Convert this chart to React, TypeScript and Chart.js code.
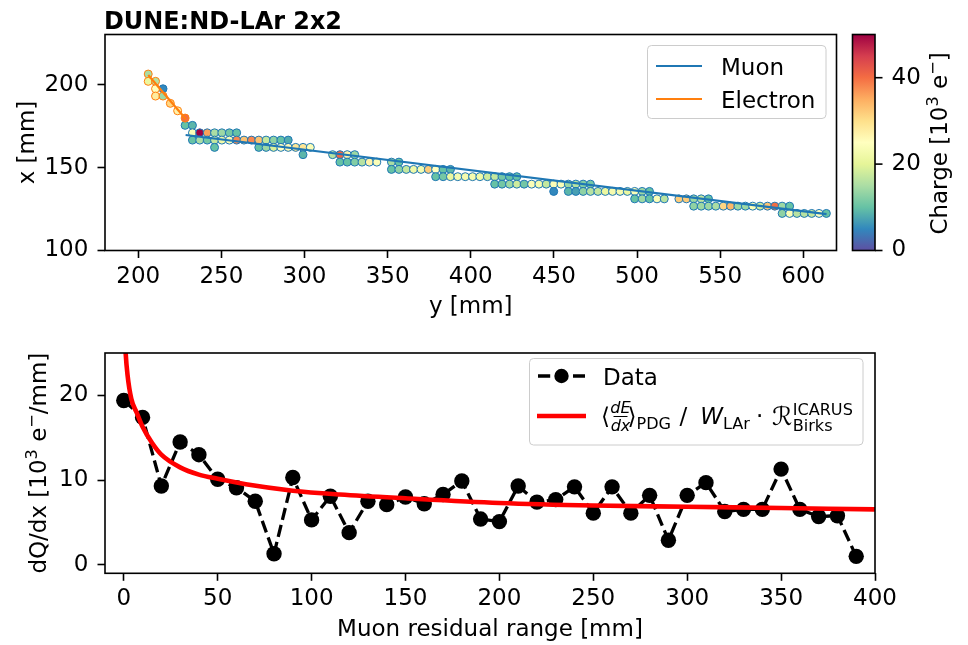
import React, { useEffect, useRef } from "react";
import { Chart, registerables } from "chart.js";
Chart.register(...registerables);

const W = 968;
const H = 645;
const TOP_H = 330;
const BOT_H = H - TOP_H;
const FAM = "'DejaVu Sans', sans-serif";
const FS = 23;

// ---------- top panel data ----------
const TOP_X_TICKS = [200, 250, 300, 350, 400, 450, 500, 550, 600];
const TOP_Y_TICKS = [100, 150, 200];
const CBAR_TICKS = [0, 20, 40];
const CBAR_MIN = 0;
const CBAR_MAX = 50;

// muon hits: y [mm], x [mm], charge [10^3 e-]
const MUON_Y = [
  214.9, 228.2, 232.6,
  232.6, 237.0, 241.5, 245.9, 250.3, 254.8, 259.2,
  232.6, 237.0, 241.5, 245.9, 250.3, 254.8, 259.2, 263.6, 268.1, 272.5, 276.9, 281.4, 285.8, 290.2,
  245.9, 272.5, 276.9, 281.4, 285.8, 290.2, 294.7, 299.1, 303.5,
  299.1, 316.9, 321.3, 325.7, 330.2,
  321.3, 325.7, 330.2, 334.6, 339.0, 343.5, 352.3, 356.8,
  352.3, 356.8, 361.2, 365.6, 370.1, 374.5, 378.9, 383.4, 387.8,
  378.9, 383.4, 387.8, 392.2, 396.7, 401.1, 405.5, 410.0, 414.4, 418.8, 423.3, 427.7,
  414.4, 418.8, 423.3, 427.7, 432.1, 436.6, 441.0, 445.4, 449.9, 454.3, 458.7, 463.2, 467.6, 472.0,
  449.9, 458.7, 463.2, 467.6, 472.0, 476.5, 480.9, 485.3, 489.8, 494.2, 498.6, 503.1, 507.5,
  498.6, 503.1, 507.5, 512.0, 516.4, 525.2, 529.7, 534.1, 538.6, 543.0,
  534.1, 538.6, 543.0, 547.4, 551.9, 556.3, 560.7, 565.2, 569.6, 574.0, 578.5, 582.9, 587.3, 591.8,
  587.3, 591.8, 596.2, 600.6, 605.1, 609.5, 613.9,
];
const MUON_X = [
  197.7, 175.6, 175.6,
  171.1, 171.1, 171.1, 171.1, 171.1, 171.1, 171.1,
  166.7, 166.7, 166.7, 166.7, 166.7, 166.7, 166.7, 166.7, 166.7, 166.7, 166.7, 166.7, 166.7, 166.7,
  162.3, 162.3, 162.3, 162.3, 162.3, 162.3, 162.3, 162.3, 162.3,
  157.9, 157.9, 157.9, 157.9, 157.9,
  153.4, 153.4, 153.4, 153.4, 153.4, 153.4, 153.4, 153.4,
  149.0, 149.0, 149.0, 149.0, 149.0, 149.0, 149.0, 149.0, 149.0,
  144.6, 144.6, 144.6, 144.6, 144.6, 144.6, 144.6, 144.6, 144.6, 144.6, 144.6, 144.6,
  140.1, 140.1, 140.1, 140.1, 140.1, 140.1, 140.1, 140.1, 140.1, 140.1, 140.1, 140.1, 140.1, 140.1,
  135.7, 135.7, 135.7, 135.7, 135.7, 135.7, 135.7, 135.7, 135.7, 135.7, 135.7, 135.7, 135.7,
  131.2, 131.2, 131.2, 131.2, 131.2, 131.2, 131.2, 131.2, 131.2, 131.2,
  126.8, 126.8, 126.8, 126.8, 126.8, 126.8, 126.8, 126.8, 126.8, 126.8, 126.8, 126.8, 126.8, 126.8,
  122.4, 122.4, 122.4, 122.4, 122.4, 122.4, 122.4,
];
const MUON_Q = [
  5, 10, 9,
  24, 50, 36, 15, 14, 11, 10,
  10, 15, 11, 17, 22, 24, 38, 33, 38, 33, 17, 13, 10, 8,
  10, 10, 14, 19, 25, 26, 29, 29, 24,
  9, 16, 41, 27, 14,
  10, 10, 12, 16, 27, 24, 15, 10,
  10, 13, 17, 22, 23, 32, 25, 10, 9,
  10, 11, 21, 23, 23, 23, 22, 18, 17, 11, 10, 10,
  10, 11, 14, 18, 11, 24, 23, 17, 24, 24, 14, 16, 12, 11,
  5, 9, 7, 13, 16, 17, 21, 23, 23, 21, 24, 14, 10,
  10, 14, 10, 24, 16, 32, 32, 14, 17, 10,
  13, 14, 14, 15, 31, 34, 14, 14, 24, 18, 33, 40, 14, 10,
  13, 24, 16, 16, 17, 25, 10,
];

// electron hits
const ELEC_Y = [206.0, 206.0, 210.4, 210.4, 210.4, 214.9, 219.3, 223.7, 228.2];
const ELEC_X = [206.6, 202.2, 202.2, 197.7, 193.3, 193.3, 188.9, 184.4, 180.0];
const ELEC_Q = [15, 21, 16, 25, 28, 14, 31, 27, 40];

// fitted tracks
const MUON_FIT_Y = [228.5, 614.0];
const MUON_FIT_X = [169.8, 122.0];
const ELEC_FIT_Y = [206.0, 228.7];
const ELEC_FIT_X = [206.0, 179.3];

// ---------- bottom panel data ----------
const BOT_X_TICKS = [0, 50, 100, 150, 200, 250, 300, 350, 400];
const BOT_Y_TICKS = [0, 10, 20];
const RES_RANGE = [
  0, 10, 20, 30, 40, 50, 60, 70, 80, 90, 100, 110, 120, 130, 140, 150, 160, 170, 180, 190,
  200, 210, 220, 230, 240, 250, 260, 270, 280, 290, 300, 310, 320, 330, 340, 350, 360, 370, 380, 390,
];
const DQDX = [
  19.4, 17.4, 9.3, 14.5, 13.0, 10.1, 9.1, 7.5, 1.3, 10.3, 5.3, 8.1, 3.8, 7.5, 7.1, 8.0, 7.2, 8.3, 9.9, 5.4,
  5.1, 9.3, 7.4, 7.7, 9.2, 6.1, 9.2, 6.1, 8.2, 2.9, 8.2, 9.7, 6.3, 6.55, 6.55, 11.3, 6.55, 5.7, 5.8, 1.0,
];
const MODEL_R = [0.5, 1, 2, 4, 7, 10, 15, 20, 30, 40, 50, 65, 90, 115, 150, 200, 250, 300, 350, 400];
const MODEL_DQDX = [
  27.5, 25.0, 22.4, 19.6, 17.9, 16.3, 14.4, 13.0, 11.5, 10.65, 10.15, 9.5, 8.75, 8.3, 7.85, 7.3, 7.0, 6.85, 6.7, 6.55,
];

// ---------- colours ----------
const SPECTRAL_R = [
  "#5e4fa2", "#3288bd", "#66c2a5", "#abdda4", "#e6f598", "#ffffbf",
  "#fee08b", "#fdae61", "#f46d43", "#d53e4f", "#9e0142",
];
const MUON_C = "#1f77b4";
const ELEC_C = "#ff7f0e";

function hexRgb(h: string) {
  return [parseInt(h.slice(1, 3), 16), parseInt(h.slice(3, 5), 16), parseInt(h.slice(5, 7), 16)];
}
function cmap(v: number) {
  const n = SPECTRAL_R.length - 1;
  const t = Math.min(1, Math.max(0, (v - CBAR_MIN) / (CBAR_MAX - CBAR_MIN))) * n;
  const i = Math.min(n - 1, Math.floor(t));
  const f = t - i;
  const a = hexRgb(SPECTRAL_R[i]);
  const b = hexRgb(SPECTRAL_R[i + 1]);
  const c = a.map((x, k) => Math.round(x + (b[k] - x) * f));
  return `rgb(${c[0]},${c[1]},${c[2]})`;
}

// ---------- text helpers ----------
type Seg = { t: string; s?: number; dy?: number; it?: boolean };
function fontOf(size: number, it?: boolean, bold?: boolean) {
  return `${it ? "italic " : ""}${bold ? "bold " : ""}${size}px ${FAM}`;
}
function richWidth(ctx: CanvasRenderingContext2D, segs: Seg[], size: number) {
  let w = 0;
  for (const g of segs) {
    ctx.font = fontOf(size * (g.s ?? 1), g.it);
    w += ctx.measureText(g.t).width;
  }
  return w;
}
function drawRich(ctx: CanvasRenderingContext2D, segs: Seg[], x: number, y: number, size: number, align: "left" | "center") {
  const w = richWidth(ctx, segs, size);
  let cx = align === "center" ? x - w / 2 : x;
  ctx.textAlign = "left";
  ctx.textBaseline = "alphabetic";
  for (const g of segs) {
    ctx.font = fontOf(size * (g.s ?? 1), g.it);
    ctx.fillText(g.t, cx, y + (g.dy ?? 0) * size);
    cx += ctx.measureText(g.t).width;
  }
}
function drawRotated(ctx: CanvasRenderingContext2D, segs: Seg[], baseX: number, centerY: number, size: number) {
  ctx.save();
  ctx.translate(baseX, centerY);
  ctx.rotate(-Math.PI / 2);
  drawRich(ctx, segs, 0, 0, size, "center");
  ctx.restore();
}
function txt(ctx: CanvasRenderingContext2D, t: string, x: number, y: number, size: number, it = false) {
  ctx.font = fontOf(size, it);
  ctx.textAlign = "left";
  ctx.textBaseline = "alphabetic";
  ctx.fillText(t, x, y);
  return x + ctx.measureText(t).width;
}

const SUP = -0.38;
const SUB_S = 0.7;

// ---------- shared axis options ----------
function axisOpts(min: number, max: number, ticks: number[], fit: (s: any) => void, pad: number) {
  return {
    type: "linear" as const,
    min,
    max,
    afterBuildTicks: (s: any) => {
      s.ticks = ticks.map((v) => ({ value: v }));
    },
    afterFit: fit,
    grid: {
      display: true,
      drawOnChartArea: false,
      drawTicks: true,
      tickLength: 7.5,
      tickWidth: 1.6,
      tickColor: "#000",
    },
    border: { display: false },
    ticks: {
      color: "#000",
      font: { family: FAM, size: FS },
      padding: pad,
      autoSkip: false,
      maxRotation: 0,
      minRotation: 0,
    },
  };
}

function frame(ctx: CanvasRenderingContext2D, a: any) {
  ctx.strokeStyle = "#000";
  ctx.lineWidth = 1.6;
  ctx.strokeRect(a.left, a.top, a.right - a.left, a.bottom - a.top);
}
function legendBox(ctx: CanvasRenderingContext2D, x: number, y: number, w: number, h: number) {
  ctx.beginPath();
  (ctx as any).roundRect(x, y, w, h, 4);
  ctx.fillStyle = "rgba(255,255,255,0.8)";
  ctx.fill();
  ctx.strokeStyle = "#cccccc";
  ctx.lineWidth = 1;
  ctx.stroke();
  ctx.fillStyle = "#000";
}

// ---------- top chart ----------
const TITLE = "DUNE:ND-LAr 2x2";
const topPlugin = {
  id: "topExtras",
  afterDraw(chart: any) {
    const ctx: CanvasRenderingContext2D = chart.ctx;
    const a = chart.chartArea;
    ctx.save();
    frame(ctx, a);
    ctx.fillStyle = "#000";
    // title (bold, fitted to the width of the original)
    ctx.font = `bold 24px ${FAM}`;
    ctx.textAlign = "left";
    ctx.textBaseline = "alphabetic";
    const tw = ctx.measureText(TITLE).width;
    ctx.save();
    ctx.translate(a.left - 1, 28.5);
    ctx.scale(238 / tw, 1.0);
    ctx.fillText(TITLE, 0, 0);
    ctx.restore();
    // axis titles
    drawRich(ctx, [{ t: "y [mm]" }], (a.left + a.right) / 2, 313, FS, "center");
    drawRotated(ctx, [{ t: "x [mm]" }], 33.5, (a.top + a.bottom) / 2, FS);

    // colorbar
    const cbL = a.right + 16;
    const cbR = cbL + 22.5;
    const g = ctx.createLinearGradient(0, a.bottom, 0, a.top);
    SPECTRAL_R.forEach((c, i) => g.addColorStop(i / (SPECTRAL_R.length - 1), c));
    ctx.fillStyle = g;
    ctx.fillRect(cbL, a.top, cbR - cbL, a.bottom - a.top);
    ctx.strokeStyle = "#000";
    ctx.lineWidth = 1.6;
    ctx.strokeRect(cbL, a.top, cbR - cbL, a.bottom - a.top);
    ctx.fillStyle = "#000";
    ctx.font = fontOf(FS);
    for (const v of CBAR_TICKS) {
      const y = a.bottom - ((v - CBAR_MIN) / (CBAR_MAX - CBAR_MIN)) * (a.bottom - a.top);
      ctx.beginPath();
      ctx.moveTo(cbR, y);
      ctx.lineTo(cbR + 7.5, y);
      ctx.lineWidth = 1.6;
      ctx.stroke();
      ctx.textAlign = "left";
      ctx.textBaseline = "middle";
      ctx.fillText(String(v), cbR + 16.5, y);
    }
    drawRotated(
      ctx,
      [{ t: "Charge [10" }, { t: "3", s: SUB_S, dy: SUP }, { t: " e" }, { t: "\u2212", s: SUB_S, dy: SUP }, { t: "]" }],
      946.5,
      (a.top + a.bottom) / 2 + 1,
      FS
    );

    // legend
    legendBox(ctx, 647.5, 45.5, 178.5, 73);
    ctx.lineWidth = 2.2;
    ctx.strokeStyle = MUON_C;
    ctx.beginPath();
    ctx.moveTo(656, 66);
    ctx.lineTo(702, 66);
    ctx.stroke();
    ctx.strokeStyle = ELEC_C;
    ctx.beginPath();
    ctx.moveTo(656, 99);
    ctx.lineTo(702, 99);
    ctx.stroke();
    ctx.fillStyle = "#000";
    txt(ctx, "Muon", 721, 74.5, FS);
    txt(ctx, "Electron", 721, 107.5, FS);
    ctx.restore();
  },
};

function topConfig(): any {
  return {
    type: "scatter",
    data: {
      datasets: [
        {
          label: "Muon",
          data: MUON_FIT_Y.map((y, i) => ({ x: y, y: MUON_FIT_X[i] })),
          showLine: true,
          borderColor: MUON_C,
          borderWidth: 2.2,
          pointRadius: 0,
          order: 0,
        },
        {
          label: "Electron",
          data: ELEC_FIT_Y.map((y, i) => ({ x: y, y: ELEC_FIT_X[i] })),
          showLine: true,
          borderColor: ELEC_C,
          borderWidth: 2.2,
          pointRadius: 0,
          order: 0,
        },
        {
          label: "muon hits",
          data: MUON_Y.map((y, i) => ({ x: y, y: MUON_X[i] })),
          pointRadius: 4.0,
          pointBorderWidth: 1,
          pointBorderColor: MUON_C,
          pointBackgroundColor: MUON_Q.map(cmap),
          order: 2,
        },
        {
          label: "electron hits",
          data: ELEC_Y.map((y, i) => ({ x: y, y: ELEC_X[i] })),
          pointRadius: 4.0,
          pointBorderWidth: 1,
          pointBorderColor: ELEC_C,
          pointBackgroundColor: ELEC_Q.map(cmap),
          order: 1,
        },
      ],
    },
    options: {
      animation: false,
      responsive: false,
      devicePixelRatio: 1,
      events: [],
      layout: { padding: { left: 0, top: 34.5, right: W - 836.5, bottom: 0 } },
      plugins: { legend: { display: false }, tooltip: { enabled: false }, title: { display: false } },
      scales: {
        x: axisOpts(180, 620, TOP_X_TICKS, (s: any) => { s.height = TOP_H - 250.5; }, 4.9),
        y: axisOpts(100, 230.5, TOP_Y_TICKS, (s: any) => { s.width = 105; }, 9.2),
      },
    },
    plugins: [topPlugin],
  };
}

// ---------- bottom chart ----------
const botPlugin = {
  id: "botExtras",
  afterDraw(chart: any) {
    const ctx: CanvasRenderingContext2D = chart.ctx;
    const a = chart.chartArea;
    const O = TOP_H;
    ctx.save();
    frame(ctx, a);
    ctx.fillStyle = "#000";
    drawRich(ctx, [{ t: "Muon residual range [mm]" }], (a.left + a.right) / 2, 636 - O, FS, "center");
    drawRotated(
      ctx,
      [{ t: "dQ/dx [10" }, { t: "3", s: SUB_S, dy: SUP }, { t: " e" }, { t: "\u2212", s: SUB_S, dy: SUP }, { t: "/mm]" }],
      46,
      (a.top + a.bottom) / 2,
      FS
    );

    // legend
    legendBox(ctx, 529.5, 358.5 - O, 333.5, 86.5);
    // data handle
    ctx.strokeStyle = "#000";
    ctx.fillStyle = "#000";
    ctx.lineWidth = 3.3;
    ctx.setLineDash([12.2, 5.3]);
    ctx.beginPath();
    ctx.moveTo(538, 376 - O);
    ctx.lineTo(585, 376 - O);
    ctx.stroke();
    ctx.setLineDash([]);
    ctx.beginPath();
    ctx.arc(561.5, 376 - O, 7.2, 0, Math.PI * 2);
    ctx.fill();
    txt(ctx, "Data", 603, 385 - O, FS);
    // model handle
    ctx.strokeStyle = "#ff0000";
    ctx.lineWidth = 4.5;
    ctx.beginPath();
    ctx.moveTo(537, 416 - O);
    ctx.lineTo(586, 416 - O);
    ctx.stroke();
    // model label (math)
    const sb = FS * SUB_S;
    const by = 424 - O;
    ctx.fillStyle = "#000";
    txt(ctx, "\u27e8", 601, by, FS);
    ctx.font = fontOf(sb, true);
    ctx.textAlign = "center";
    ctx.fillText("dE", 620.5, 413 - O);
    ctx.fillText("dx", 620.5, 430.5 - O);
    ctx.textAlign = "left";
    ctx.lineWidth = 1;
    ctx.strokeStyle = "#000";
    ctx.beginPath();
    ctx.moveTo(613.5, 416.5 - O);
    ctx.lineTo(627.5, 416.5 - O);
    ctx.stroke();
    txt(ctx, "\u27e9", 627.5, by, FS);
    txt(ctx, "PDG", 636.5, 428.5 - O, sb);
    txt(ctx, "/", 679.5, by, FS);
    ctx.font = fontOf(FS, true);
    const wW = ctx.measureText("W").width;
    const wEnd = txt(ctx, "W", 723 - wW, by, FS, true);
    txt(ctx, "LAr", Math.max(wEnd, 722.5), 428.5 - O, sb);
    txt(ctx, "\u00b7", 756, by, FS);
    const rEnd = txt(ctx, "\u211b", 772, by + 1, FS * 1.1);
    const sx = Math.max(rEnd + 0.5, 790.5);
    txt(ctx, "ICARUS", sx, 415 - O, sb);
    txt(ctx, "Birks", sx, 431 - O, sb);
    ctx.restore();
  },
};

function botConfig(): any {
  return {
    type: "scatter",
    data: {
      datasets: [
        {
          label: "model",
          data: MODEL_R.map((r, i) => ({ x: r, y: MODEL_DQDX[i] })),
          showLine: true,
          borderColor: "#ff0000",
          borderWidth: 4.6,
          pointRadius: 0,
          cubicInterpolationMode: "monotone",
          clip: 0,
          order: 0,
        },
        {
          label: "Data",
          data: RES_RANGE.map((r, i) => ({ x: r, y: DQDX[i] })),
          showLine: true,
          borderColor: "#000",
          borderWidth: 3.3,
          borderDash: [12.2, 5.3],
          pointRadius: 7.7,
          pointBorderWidth: 0,
          pointBackgroundColor: "#000",
          order: 1,
        },
      ],
    },
    options: {
      animation: false,
      responsive: false,
      devicePixelRatio: 1,
      events: [],
      layout: { padding: { left: 0, top: 16.7, right: W - 875, bottom: 0 } },
      plugins: { legend: { display: false }, tooltip: { enabled: false }, title: { display: false } },
      scales: {
        x: axisOpts(-10, 400, BOT_X_TICKS, (s: any) => { s.height = BOT_H - 243.3; }, 4.9),
        y: axisOpts(-1, 25, BOT_Y_TICKS, (s: any) => { s.width = 105; }, 9.2),
      },
    },
    plugins: [botPlugin],
  };
}

export default function App() {
  const topRef = useRef<HTMLCanvasElement>(null);
  const botRef = useRef<HTMLCanvasElement>(null);
  useEffect(() => {
    const c1 = new Chart(topRef.current as HTMLCanvasElement, topConfig());
    const c2 = new Chart(botRef.current as HTMLCanvasElement, botConfig());
    return () => {
      c1.destroy();
      c2.destroy();
    };
  }, []);
  return (
    <div style={{ position: "absolute", left: 0, top: 0, width: W, height: H, background: "#fff", overflow: "hidden" }}>
      <canvas ref={topRef} width={W} height={TOP_H} style={{ position: "absolute", left: 0, top: 0 }} />
      <canvas ref={botRef} width={W} height={BOT_H} style={{ position: "absolute", left: 0, top: TOP_H }} />
    </div>
  );
}
